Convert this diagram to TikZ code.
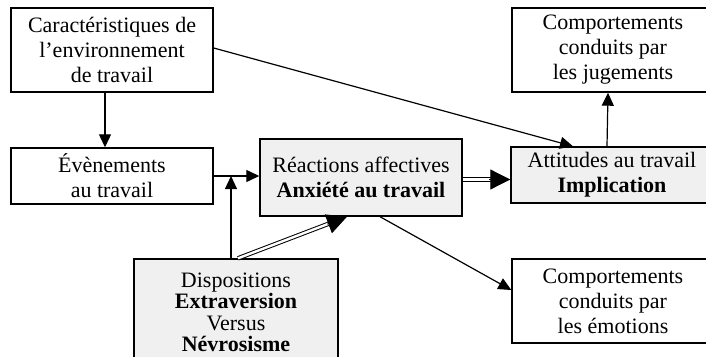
\documentclass[tikz,border=0pt]{standalone}
\usepackage{fontspec}
\setmainfont{Liberation Serif}
\usetikzlibrary{arrows.meta, positioning, calc}
\begin{document}
\begin{tikzpicture}[x=1pt, y=-1pt,
  font=\fontsize{22}{25}\selectfont,
  box/.style={rectangle, draw, line width=1.4pt, fill=white, minimum width=202pt, align=center, inner sep=2pt},
  keybox/.style={box, fill=gray!12},
  arr/.style={-{Triangle[length=13pt,width=12pt]}, line width=1.2pt},
  darr/.style={double, double distance=2.4pt, line width=1pt, shorten >=16pt},
  dtip/.style={-{Triangle[length=20pt,width=20pt]}, line width=1pt}]
\useasboundingbox (0,0) rectangle (706,356);
\clip (0,0) rectangle (706,356);
\node[box, minimum height=84pt] (env) at (112,50) {Caractéristiques de\\l’environnement\\de travail};
\node[box, minimum height=56pt] (evt) at (112,176) {Évènements\\au travail};
\node[keybox, minimum height=77pt] (react) at (361,177.5) {Réactions affectives\\\textbf{Anxiété au travail}};
\node[keybox, minimum height=56pt] (att) at (612,175) {Attitudes au travail\\\textbf{Implication}};
\node[box, minimum height=84pt] (jug) at (613,50) {Comportements\\conduits par\\les jugements};
\node[box, minimum height=84pt] (emo) at (613,301) {Comportements\\conduits par\\les émotions};
\node[keybox, minimum height=107pt, minimum width=204pt, font=\fontsize{22}{21.5}\selectfont] (disp) at (236,312.5) {Dispositions\\\textbf{Extraversion}\\Versus\\\textbf{Névrosisme}};
% single arrows
\draw[arr] ([xshift=-7pt]env.south) -- ([xshift=-7pt]evt.north);
\draw[arr] ([yshift=2pt]env.east) -- ([xshift=-39pt]att.north);
\draw[arr] (evt.east) -- (evt.east -| react.west);
\draw[arr] ([xshift=-5pt]disp.north) -- ([xshift=-5pt]disp.north |- evt.east);
\draw[arr] ([xshift=-5pt]att.north) -- ([xshift=-5pt]jug.south);
\draw[arr] ([xshift=19pt]react.south) -- ([yshift=11pt]emo.west);
% double arrows
\coordinate (ds) at ([xshift=2pt]disp.north);
\coordinate (dt) at ([xshift=-14pt]react.south);
\coordinate (rs) at ([yshift=-2pt]react.east);
\coordinate (rt) at (rs -| att.west);
\draw[darr] (ds) -- (dt);
\draw[dtip] ($(dt)!21pt!(ds)$) -- (dt);
\draw[darr] (rs) -- (rt);
\draw[dtip] ($(rt)!21pt!(rs)$) -- (rt);
\end{tikzpicture}
\end{document}
